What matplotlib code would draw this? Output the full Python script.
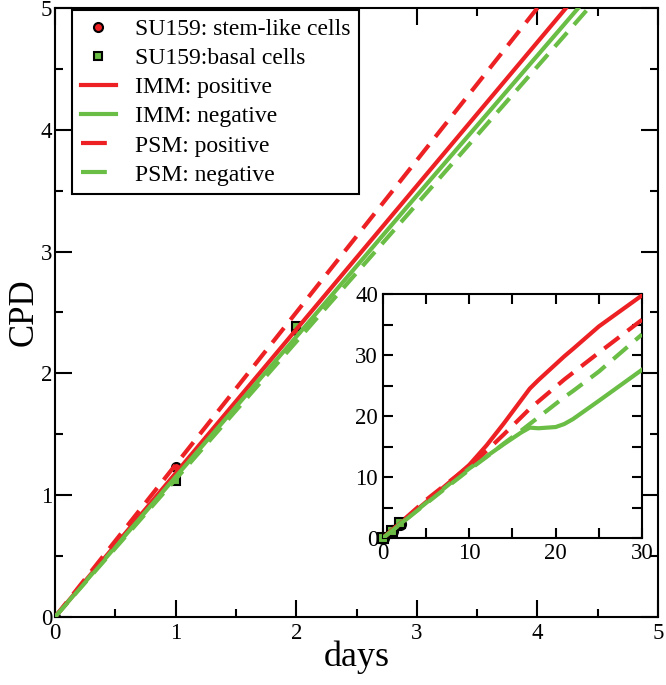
import matplotlib
matplotlib.use("Agg")
import matplotlib.pyplot as plt
from matplotlib.ticker import MultipleLocator

plt.rcParams['font.family'] = ['Liberation Serif', 'DejaVu Serif']
plt.rcParams['mathtext.fontset'] = 'stix'

# experimental data
exp_days = [0, 1, 2]
stem_cpd = [0, 1.23, 2.36]
basal_cpd = [0, 1.12, 2.39]

# model curves
model_days = [0, 1, 2, 3, 4, 5, 8, 10, 12, 14, 16, 17, 18, 20, 21, 22, 25, 30]
imm_pos = [0, 1.18, 2.36, 3.54, 4.72, 5.90, 9.5, 12.0, 15.2, 18.8, 22.6, 24.5, 25.9, 28.5, 29.8, 31.0, 34.7, 39.8]
imm_neg = [0, 1.15, 2.30, 3.46, 4.61, 5.76, 9.2, 11.4, 13.4, 15.4, 17.3, 18.1, 18.0, 18.2, 18.7, 19.5, 22.5, 27.6]
psm_pos = [0, 1.25, 2.50, 3.75, 5.00, 6.25, 9.6, 11.8, 14.3, 17.0, 19.8, 21.2, 22.4, 24.8, 26.0, 27.1, 30.4, 35.8]
psm_neg = [0, 1.13, 2.26, 3.39, 4.52, 5.65, 9.0, 11.2, 13.3, 15.5, 17.6, 18.7, 19.8, 22.0, 23.1, 24.1, 27.3, 33.4]

RED = '#ed2024'
GREEN = '#6abd45'
DASH = (4.5, 2.5)

fig = plt.figure(figsize=(6.66, 6.85), dpi=100)
ax = fig.add_axes([0.0826, 0.0993, 0.9054, 0.889])


def draw(a, lw, ms):
    a.plot(exp_days, stem_cpd, 'o', color=RED, mec='black', mew=1.5, ms=ms,
           label='SU159: stem-like cells', zorder=2)
    a.plot(exp_days, basal_cpd, 's', color=GREEN, mec='black', mew=1.5, ms=ms - 1,
           label='SU159:basal cells', zorder=2)
    a.plot(model_days, imm_pos, '-', color=RED, lw=lw, label='IMM: positive', zorder=3)
    a.plot(model_days, imm_neg, '-', color=GREEN, lw=lw, label='IMM: negative', zorder=3)
    a.plot(model_days, psm_pos, '--', color=RED, lw=lw, dashes=DASH, label='PSM: positive', zorder=3)
    a.plot(model_days, psm_neg, '--', color=GREEN, lw=lw, dashes=DASH, label='PSM: negative', zorder=3)


def style(a, major, minor, fs):
    for s in a.spines.values():
        s.set_linewidth(1.5)
    a.tick_params(direction='in', which='both', top=True, right=True, width=1.5, labelsize=fs)
    a.tick_params(which='major', length=major)
    a.tick_params(which='minor', length=minor)


draw(ax, 3, 6.5)
ax.set_xlim(0, 5)
ax.set_ylim(0, 5)
ax.xaxis.set_major_locator(MultipleLocator(1))
ax.xaxis.set_minor_locator(MultipleLocator(0.5))
ax.yaxis.set_major_locator(MultipleLocator(1))
ax.yaxis.set_minor_locator(MultipleLocator(0.5))
style(ax, 12, 6, 16.5)
ax.tick_params(axis='y', pad=2)
ax.tick_params(axis='x', pad=4)
ax.set_xlabel('days', fontsize=26, labelpad=-2)
ax.set_ylabel('CPD', fontsize=25, labelpad=0)

leg = ax.legend(loc='upper left', bbox_to_anchor=(0.025, 1.0), fontsize=17,
                frameon=True, fancybox=False, edgecolor='black', framealpha=1,
                handlelength=1.5, handletextpad=0.8, borderpad=0.35, labelspacing=0.32,
                borderaxespad=0.1)
leg.get_frame().set_linewidth(1.5)
for h in leg.get_lines()[4:]:
    h.set_dashes((6.2, 5))

ins = fig.add_axes([0.575, 0.2146, 0.389, 0.356])
draw(ins, 3, 8)
ins.set_xlim(0, 30)
ins.set_ylim(0, 40)
ins.xaxis.set_major_locator(MultipleLocator(10))
ins.xaxis.set_minor_locator(MultipleLocator(5))
ins.yaxis.set_major_locator(MultipleLocator(10))
ins.yaxis.set_minor_locator(MultipleLocator(5))
style(ins, 7, 7, 16.5)
for m in ins.lines[:2]:
    m.set_clip_on(False)

fig.savefig('out.png', dpi=100)
